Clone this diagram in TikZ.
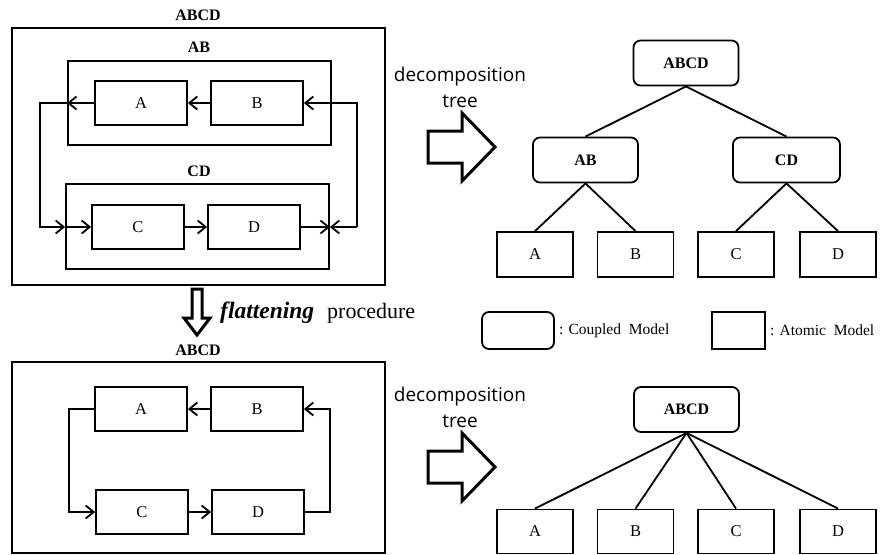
\documentclass[tikz,border=0pt]{standalone}
\usepackage{fontspec}
\setmainfont{Liberation Serif}
\newfontfamily\treefont{Open Sans}
\newfontfamily\capfont{Liberation Serif}
\usetikzlibrary{arrows.meta}

\tikzset{
  atom/.style={draw, line width=1.8pt, minimum width=92pt, minimum height=44pt, inner sep=0pt, font=\fontsize{16.5}{19}\selectfont},
  leafbox/.style={atom, minimum width=76pt, minimum height=45pt},
  coupled/.style={draw, line width=1.8pt, rounded corners=7pt, minimum width=105pt, minimum height=45pt, inner sep=0pt, font=\fontsize{16}{19}\selectfont\bfseries},
  modelbox/.style={draw, line width=1.8pt, inner sep=0pt},
  boxlabel/.style={font=\fontsize{16}{19}\selectfont\bfseries, inner sep=0pt},
  conn/.style={line width=1.8pt, -{Straight Barb[length=8pt,width=13pt]}},
  treeline/.style={line width=1.8pt},
  blockarrow/.style={line width=3pt, line join=miter},
  dectext/.style={align=center, inner sep=0pt, font=\treefont\fontsize{19}{26}\selectfont},
  legendtext/.style={anchor=west, inner sep=0pt, font=\capfont\fontsize{15.5}{18}\selectfont},
}

\begin{document}
\begin{tikzpicture}[x=1pt, y=-1pt]
\useasboundingbox (0,0) rectangle (882,554);

% hierarchical model
\node[modelbox, minimum width=373pt, minimum height=257pt] (ABCD) at (198.5,156.5) {};
\node[boxlabel] (ABCDlbl) at (198,15) {ABCD};
\node[modelbox, minimum width=263pt, minimum height=84pt] (AB) at (199.5,103) {};
\node[boxlabel] (ABlbl) at (199,47) {AB};
\node[modelbox, minimum width=263pt, minimum height=85pt] (CD) at (197.5,226.5) {};
\node[boxlabel] (CDlbl) at (199,171) {CD};
\node[atom] (A) at (141,103) {A};
\node[atom] (B) at (257,103) {B};
\node[atom] (C) at (138,227) {C};
\node[atom] (D) at (254,227) {D};
\coordinate (lft) at (40,0);
\coordinate (rgt) at (357,0);

\draw[conn] (B.west) -- (A.east);
\draw[conn] (A.west) -- (A.west -| AB.west);
\draw[conn] (A.west -| AB.west) -- (A.west -| lft) |- (C.west -| CD.west);
\draw[conn] (C.west -| CD.west) -- (C.west);
\draw[conn] (C.east) -- (D.west);
\draw[conn] (D.east) -- (D.east -| CD.east);
\draw[conn] (D.east -| rgt) -- (D.east -| CD.east);
\draw[conn] (D.east -| rgt) |- (B.east);

% flattening
\draw[blockarrow] (192,289) -- (202,289) -- (202,318) -- (210,318) -- (197,335) -- (184,318) -- (192,318) -- cycle;
\node[anchor=west, inner sep=0pt, font=\capfont\fontsize{22}{26}\selectfont] (flat) at (220,313) {{\fontsize{23.5}{26}\selectfont\bfseries\itshape flattening}\hspace{13pt}procedure};

% flat model
\node[modelbox, minimum width=373pt, minimum height=191pt] (ABCDf) at (198.5,457.5) {};
\node[boxlabel] (ABCDflbl) at (198,350) {ABCD};
\node[atom] (Af) at (141,409) {A};
\node[atom] (Bf) at (257,409) {B};
\node[atom] (Cf) at (142,512) {C};
\node[atom] (Df) at (258,512) {D};
\coordinate (lftf) at (69,0);
\coordinate (rgtf) at (330,0);

\draw[conn] (Bf.west) -- (Af.east);
\draw[conn] (Af.west) -- (Af.west -| lftf) |- (Cf.west);
\draw[conn] (Cf.east) -- (Df.west);
\draw[conn] (Df.east) -- (Df.east -| rgtf) |- (Bf.east);

% decomposition arrows
\foreach \dy in {0,320} {
  \draw[blockarrow] (428,131+\dy) -- (462,131+\dy) -- (462,113+\dy) -- (495,147+\dy) -- (462,181+\dy) -- (462,163+\dy) -- (428,163+\dy) -- cycle;
}
\node[dectext] (dec) at (460,87) {decomposition\\tree};
\node[dectext] (decf) at (460,407) {decomposition\\tree};

% decomposition tree
\node[coupled] (root) at (686,63) {ABCD};
\node[coupled] (ABt) at (585.5,160) {AB};
\node[coupled, minimum width=107pt] (CDt) at (786.5,160) {CD};
\node[leafbox] (At) at (535,254.5) {A};
\node[leafbox] (Bt) at (635.5,254.5) {B};
\node[leafbox] (Ct) at (736,254.5) {C};
\node[leafbox] (Dt) at (838,254.5) {D};
\draw[treeline] (root.south) -- (ABt.north);
\draw[treeline] (root.south) -- (CDt.north);
\draw[treeline] (ABt.south) -- (At.north);
\draw[treeline] (ABt.south) -- (Bt.north);
\draw[treeline] (CDt.south) -- (Ct.north);
\draw[treeline] (CDt.south) -- (Dt.north);

% legend
\node[coupled, minimum width=72pt, minimum height=37pt] (cpl) at (518,330.5) {};
\node[legendtext] (cpltxt) at ([xshift=4pt]cpl.east) {: Coupled\ \ Model};
\node[atom, minimum width=53pt, minimum height=37pt] (atm) at (738.5,330.5) {};
\node[legendtext] (atmtxt) at ([xshift=4pt]atm.east) {: Atomic\ \ Model};

% flat tree
\node[coupled] (rootf) at (686.5,409.5) {ABCD};
\node[leafbox, minimum height=44pt] (Aft) at (535,531.5) {A};
\node[leafbox, minimum height=44pt] (Bft) at (635.5,531.5) {B};
\node[leafbox, minimum height=44pt] (Cft) at (736,531.5) {C};
\node[leafbox, minimum height=44pt] (Dft) at (838,531.5) {D};
\foreach \n in {Aft,Bft,Cft,Dft}
  \draw[treeline] (rootf.south) -- (\n.north);
\end{tikzpicture}
\end{document}
